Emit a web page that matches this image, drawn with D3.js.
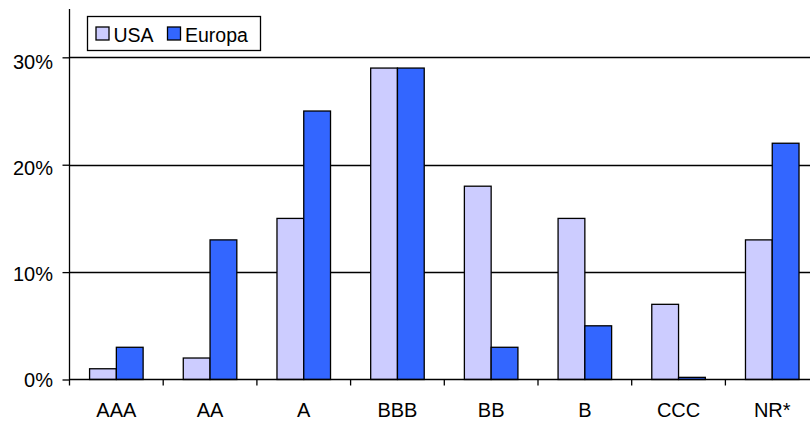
<!DOCTYPE html>
<html>
<head>
<meta charset="utf-8">
<script src="https://cdn.jsdelivr.net/npm/d3@7"></script>
<style>
  html, body { margin: 0; padding: 0; background: #fff; }
  svg { display: block; font-family: "Liberation Sans", Arial, sans-serif; }
</style>
</head>
<body>
<svg id="chart" width="810" height="423"></svg>
<script>
// Rating categories and share of issuance per region
const categories = ["AAA", "AA", "A", "BBB", "BB", "B", "CCC", "NR*"];
const seriesNames = ["USA", "Europa"];
const usaValues = [0.01, 0.02, 0.15, 0.29, 0.18, 0.15, 0.07, 0.13];
const europaValues = [0.03, 0.13, 0.25, 0.29, 0.03, 0.05, 0.002, 0.22];
const yTicks = [0, 0.1, 0.2, 0.3];
const colors = { "USA": "#ccccff", "Europa": "#3366ff" };

const svg = d3.select("#chart");
const plotLeft = 69.5, plotBottom = 379.5, plotTop = 9, catStep = 93.7;
const labelFont = "Liberation Sans, Arial, sans-serif";

const x0 = d3.scaleBand()
  .domain(categories)
  .range([plotLeft, plotLeft + catStep * categories.length])
  .paddingInner(0).paddingOuter(0);

const x1 = d3.scaleBand()
  .domain(seriesNames)
  .range([0, x0.bandwidth()])
  .paddingInner(0).paddingOuter(0.75);

const y = d3.scaleLinear().domain([0, 0.345]).range([plotBottom, plotTop]);

// horizontal gridlines
svg.append("g")
  .selectAll("line")
  .data(yTicks.filter(d => d > 0))
  .join("line")
  .attr("x1", plotLeft).attr("x2", 810)
  .attr("y1", d => Math.round(y(d)) + 0.5).attr("y2", d => Math.round(y(d)) + 0.5)
  .attr("stroke", "#000").attr("stroke-width", 1.3);

// bars
const rows = categories.map((c, i) => ({ cat: c, USA: usaValues[i], Europa: europaValues[i] }));
svg.append("g")
  .selectAll("g")
  .data(rows)
  .join("g")
  .attr("transform", d => `translate(${x0(d.cat)},0)`)
  .selectAll("rect")
  .data(d => seriesNames.map(s => ({ s, v: d[s] })))
  .join("rect")
  .attr("x", d => x1(d.s))
  .attr("width", x1.bandwidth())
  .attr("y", d => y(d.v))
  .attr("height", d => plotBottom - y(d.v))
  .attr("fill", d => colors[d.s])
  .attr("stroke", "#000")
  .attr("stroke-width", 1.3);

// y axis
const yAxis = svg.append("g")
  .attr("transform", `translate(${plotLeft},0)`)
  .call(d3.axisLeft(y).tickValues(yTicks).tickFormat(d3.format(".0%")).tickSize(7).tickSizeOuter(0));
yAxis.select(".domain").remove();
yAxis.selectAll(".tick line").attr("stroke", "#000").attr("stroke-width", 1.3);
yAxis.selectAll(".tick text")
  .attr("x", -16.5).attr("y", d => 7 + d * 13).attr("dy", null)
  .attr("font-size", 20).attr("font-family", labelFont).attr("fill", "#000");
svg.append("line")
  .attr("x1", plotLeft).attr("x2", plotLeft).attr("y1", plotTop).attr("y2", plotBottom + 6)
  .attr("stroke", "#000").attr("stroke-width", 1.3);

// x axis line, category boundary ticks and labels
svg.append("line")
  .attr("x1", plotLeft).attr("x2", 810).attr("y1", plotBottom).attr("y2", plotBottom)
  .attr("stroke", "#000").attr("stroke-width", 1.3);
svg.append("g")
  .selectAll("line")
  .data(categories.slice(1))
  .join("line")
  .attr("x1", d => x0(d)).attr("x2", d => x0(d))
  .attr("y1", plotBottom).attr("y2", plotBottom + 6)
  .attr("stroke", "#000").attr("stroke-width", 1.3);

const xAxis = svg.append("g")
  .attr("transform", `translate(0,${plotBottom})`)
  .call(d3.axisBottom(x0).tickSize(0).tickSizeOuter(0));
xAxis.select(".domain").remove();
xAxis.selectAll(".tick text")
  .attr("y", 37.5).attr("dy", null)
  .attr("font-size", 20).attr("font-family", labelFont).attr("fill", "#000");

// legend
const legend = svg.append("g");
legend.append("rect")
  .attr("x", 87.5).attr("y", 16.5).attr("width", 173).attr("height", 34)
  .attr("fill", "#fff").attr("stroke", "#000").attr("stroke-width", 1.3);
const legendItems = [{ s: "USA", x: 96 }, { s: "Europa", x: 167.5 }];
legendItems.forEach(it => {
  legend.append("rect")
    .attr("x", it.x).attr("y", 27).attr("width", 13).attr("height", 13)
    .attr("fill", colors[it.s]).attr("stroke", "#000").attr("stroke-width", 1.3);
  legend.append("text")
    .attr("x", it.x + 17.5).attr("y", 41.7)
    .attr("font-size", 19.5).attr("font-family", labelFont).attr("fill", "#000")
    .text(it.s);
});
</script>
</body>
</html>
